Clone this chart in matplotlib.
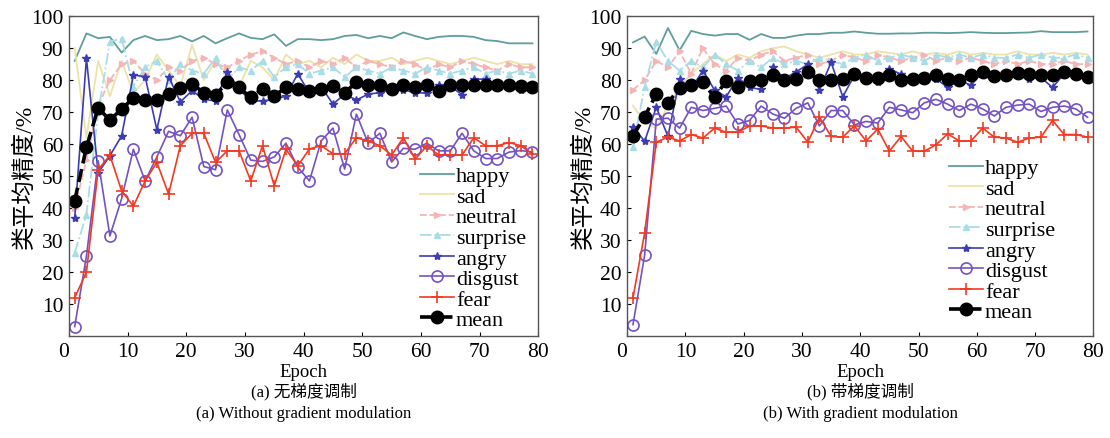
import numpy as np
import matplotlib.pyplot as plt

plt.rcParams['font.family'] = ['Liberation Serif', 'Noto Sans CJK SC']
plt.rcParams['axes.unicode_minus'] = False

epochs = np.arange(1, 80, 2)
labels = ['happy', 'sad', 'neutral', 'surprise', 'angry', 'disgust', 'fear', 'mean']

# (a) without gradient modulation
happy_a = [86, 94.6, 93.1, 93.5, 88.6, 92.5, 93.8, 92.5, 92.8, 93.8, 92.1, 93.8, 91.5, 93.1, 94.6, 93.2, 92.8, 94.3, 90.7, 92.8,
           92.8, 92.5, 92.8, 93.8, 94.1, 93.1, 93.8, 93.1, 94.9, 93.8, 92.8, 93.5, 93.8, 93.8, 93.5, 92.5, 92.2, 91.5, 91.5, 91.5]
sad_a = [90, 62, 86, 75, 86, 76, 80, 88, 83, 78, 91, 80, 86, 82, 78, 86, 84, 80, 88, 85,
         86, 84, 87, 85, 88, 86, 86, 87, 85, 86, 87, 86, 85, 86, 87, 86, 85, 86, 85, 85]
neutral_a = [40, 55, 72, 80, 85, 86, 82, 80, 84, 83, 86, 87, 85, 84, 86, 88, 89, 87, 85, 86,
             84, 86, 85, 87, 84, 86, 85, 84, 86, 85, 83, 85, 84, 86, 85, 84, 83, 85, 84, 84]
surprise_a = [26, 38, 70, 92, 93, 78, 84, 86, 80, 85, 83, 82, 87, 80, 84, 83, 86, 81, 84, 85,
              82, 83, 84, 81, 84, 83, 82, 84, 83, 82, 84, 83, 82, 83, 84, 82, 83, 82, 83, 82]
angry_a = [36.8, 86.8, 51, 56.4, 62.6, 81.6, 81.1, 64.5, 81.1, 73.2, 76.7, 74, 73.5, 82.6, 77.2, 73.5, 73.5, 74, 75, 82,
           76, 78, 72.5, 75.6, 73.8, 75.6, 76.1, 77, 77, 76, 76, 78.4, 78, 75.5, 80.3, 80.3, 78, 77.5, 77, 77]
disgust_a = [3, 25, 54.8, 31.3, 43, 58.4, 48.5, 56, 64, 62.6, 68.4, 53, 52, 70.7, 63, 55, 54.6, 56, 60.3, 52.8,
             48.5, 61, 65, 52.2, 69.4, 60.3, 63.4, 54.4, 58.7, 58.4, 60.3, 57.9, 57.9, 63.4, 57.9, 55.5, 55.5, 57.5, 58, 57.5]
fear_a = [12, 20, 52, 56.5, 45.4, 40.6, 48.5, 54.3, 44.4, 59.5, 63.4, 63.4, 54.3, 57.9, 57.9, 48.5, 59.5, 47, 58.4, 53.2,
          58.5, 59.5, 57, 57, 62, 61, 59.5, 56.6, 62, 55.3, 59.5, 56.6, 56.6, 56.6, 62, 59.5, 59.5, 60.5, 59.5, 56.9]
mean_a = [42.3, 59, 71.3, 67.5, 71, 74.4, 73.8, 73.8, 75.8, 77.5, 78.8, 76.1, 75.4, 79.3, 77.7, 74.6, 77.2, 75.1, 77.7, 77.2,
          76.7, 77.2, 78.2, 76.1, 79.3, 78.5, 78.5, 77.2, 78.5, 77.7, 78.5, 76.7, 78.5, 78.5, 78.5, 78.5, 78.5, 78.5, 78.2, 77.9]

# (b) with gradient modulation
happy_b = [91.8, 93.6, 88.2, 96.3, 89.3, 95.4, 94.4, 93.9, 94.4, 94.4, 92.6, 94.4, 93.2, 93.2, 93.9, 94.4, 94.4, 94.8, 94.8, 95.2,
           94.8, 94.5, 94.5, 94.6, 94.6, 94.8, 94.8, 94.7, 94.8, 95, 94.8, 94.7, 94.7, 94.8, 94.9, 95.3, 95, 95, 95, 95.2]
sad_b = [72, 67, 65, 72, 78, 82, 85, 88, 86, 88, 87, 89, 90, 90.5, 89, 88, 87, 88, 89, 88,
         88, 89, 88.5, 88, 89, 88, 88.5, 88, 89, 88, 88.5, 88, 88, 89, 88, 88, 88.5, 88, 88.5, 88]
neutral_b = [77, 80, 86, 84, 89, 82, 90, 85, 83, 87, 86, 88, 89, 86, 87, 88, 85, 86, 88, 87,
             86, 88, 87, 86, 87, 88, 86, 87, 86, 87, 86, 85, 86, 85, 86, 85, 85, 86, 85, 85]
surprise_b = [59, 78, 92, 86, 83, 86, 84, 88, 85, 83, 86, 84, 87, 85, 86, 85, 87, 86, 85, 87,
              88, 86, 87, 88, 87, 86, 88, 87, 88, 87, 88, 87, 87, 88, 87, 88, 87, 87, 88, 87]
angry_b = [65.5, 60.9, 71.5, 62.4, 80.2, 77.4, 83, 76.9, 74.8, 80.8, 77.7, 77.1, 84.1, 80.5, 82.6, 84.9, 76.9, 85.6, 74.8, 81.5,
           80.5, 79.5, 83.6, 81.8, 80, 80.5, 80.5, 77.7, 80, 78.4, 82.5, 81.5, 81.5, 82, 80.5, 80.8, 77.7, 82, 81.5, 81]
disgust_b = [3.6, 25.3, 67.8, 68.1, 65, 71.5, 70.5, 71.2, 71.9, 66.3, 67.4, 71.9, 69.4, 68.1, 71.2, 72.9, 65.7, 70.5, 70.5, 66,
             67.1, 66.6, 71.5, 70.7, 69.8, 72.9, 74, 72.5, 70.5, 72.5, 71, 68.8, 71.5, 72.2, 72.5, 70.2, 71.5, 71.9, 71, 68.4]
fear_b = [11.9, 32.3, 60.6, 62.2, 61, 63, 61.9, 65, 63.7, 63.7, 65.7, 65.7, 65, 65, 65.3, 60.6, 68.4, 62.4, 62.2, 65.7,
          61, 64.7, 57.8, 62.4, 57.8, 57.8, 59.8, 63.2, 61, 61, 65, 62.2, 61.9, 60.6, 61.9, 62.2, 67.4, 63, 63, 62.2]
mean_b = [62.6, 68.6, 75.6, 73, 77.4, 78.4, 79.4, 74.6, 79.8, 77.7, 79.8, 80, 81.5, 80, 80.5, 82.5, 80, 80, 80.5, 81.8,
          80.8, 80.8, 81.5, 80, 80.5, 80.8, 81.5, 80.5, 80, 81.5, 82.5, 81.2, 81.5, 82.2, 81.8, 81.5, 81.5, 82.5, 81.8, 81]

styles = [
    dict(color='#5f9e9c', lw=1.3, ls='-', marker=None),
    dict(color='#ece3a6', lw=1.3, ls='-', marker=None),
    dict(color='#f5b5b5', lw=1.3, ls='--', marker='>', ms=4),
    dict(color='#a8dde8', lw=1.3, ls='-.', marker='^', ms=4),
    dict(color='#3c3cb4', lw=1.2, ls='-', marker='*', ms=6),
    dict(color='#7452c4', lw=1.2, ls='-', marker='o', ms=8, mfc='none', mew=1.2),
    dict(color='#f23a22', lw=1.2, ls='-', marker='+', ms=8, mew=1.2),
    dict(color='black', lw=2.6, ls='--', marker='o', ms=9),
]

fig = plt.figure(figsize=(11.1, 4.39), dpi=100)
panels = [
    ([0.062, 0.232, 0.423, 0.729], [happy_a, sad_a, neutral_a, surprise_a, angry_a, disgust_a, fear_a, mean_a],
     '(a) 无梯度调制', '(a) Without gradient modulation', (1.007, -0.03)),
    ([0.565, 0.232, 0.42, 0.729], [happy_b, sad_b, neutral_b, surprise_b, angry_b, disgust_b, fear_b, mean_b],
     '(b) 带梯度调制', '(b) With gradient modulation', (0.951, -0.005)),
]

for pos, series, cap_cn, cap_en, anchor in panels:
    ax = fig.add_axes(pos)
    for vals, lab, st in zip(series, labels, styles):
        ax.plot(epochs, vals, label=lab, **st)
    ax.set_xlim(0, 80)
    ax.set_ylim(0, 100)
    ax.set_xticks(range(0, 81, 10))
    ax.set_yticks(range(10, 101, 10))
    ax.tick_params(direction='in', labelsize=15.5, length=3, pad=4)
    ax.get_xticklabels()[0].set_horizontalalignment('right')
    for s in ax.spines.values():
        s.set_color('#555555')
        s.set_linewidth(1.0)
    ax.set_xlabel('Epoch', fontsize=13.5, labelpad=2)
    ax.set_ylabel('类平均精度/%', fontsize=17)
    ax.yaxis.set_label_coords(-0.07, 0.5)
    ax.legend(loc='lower right', bbox_to_anchor=anchor, frameon=False, fontsize=16,
              labelspacing=0.0, handlelength=1.5, handletextpad=0.1, borderaxespad=0.3)
    cx = pos[0] + pos[2] / 2
    fig.text(cx, 0.107, cap_cn, ha='center', va='center', fontsize=12)
    fig.text(cx, 0.057, cap_en, ha='center', va='center', fontsize=12)

fig.savefig('out.png', dpi=100)
